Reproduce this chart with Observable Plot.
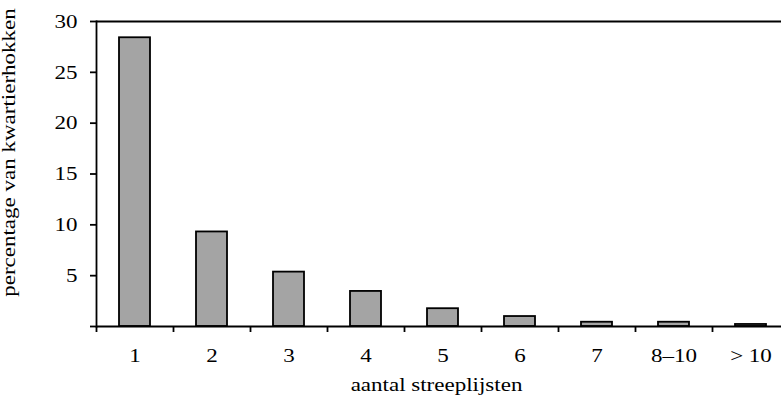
<!DOCTYPE html>
<html>
<head>
<meta charset="utf-8">
<script src="https://cdn.jsdelivr.net/npm/d3@7"></script>
<script src="https://cdn.jsdelivr.net/npm/@observablehq/plot@0.6"></script>
<style>
  html, body { margin: 0; padding: 0; background: #fff; overflow: hidden; }
  #chart svg { display: block; overflow: hidden; }
</style>
</head>
<body>
<div id="chart"></div>
<script>
const categories = ["1", "2", "3", "4", "5", "6", "7", "8\u201310", "> 10"];
const percentages = [28.4, 9.3, 5.35, 3.45, 1.75, 0.98, 0.42, 0.42, 0.2];
const yTicks = [0, 5, 10, 15, 20, 25, 30];
const xTitle = "aantal streeplijsten";
const yTitle = "percentage van kwartierhokken";

const data = categories.map((c, i) => ({category: c, value: percentages[i]}));

const W = 781, H = 398;
const mL = 96, mR = -8, mT = 21, mB = 72;
const step = (W - mL - mR) / categories.length;
const ink = 1.8;
const fs = 19.5;

const chart = Plot.plot({
  width: W,
  height: H,
  marginLeft: mL,
  marginRight: mR,
  marginTop: mT,
  marginBottom: mB,
  style: {fontFamily: "'Liberation Serif', 'Times New Roman', serif", fontSize: fs + "px", color: "#000", background: "#fff", overflow: "hidden"},
  x: {type: "band", domain: categories, paddingInner: 0.6, paddingOuter: 0.3, align: 0.5},
  y: {domain: [0, d3.max(yTicks)]},
  marks: [
    Plot.barY(data, {x: "category", y: "value", fill: "#a4a4a4", stroke: "#000", strokeWidth: ink}),
    Plot.ruleY([d3.max(yTicks)], {stroke: "#000", strokeWidth: ink}),
    Plot.ruleY([0], {stroke: "#000", strokeWidth: ink}),
    Plot.frame({anchor: "left", stroke: "#000", strokeWidth: ink}),
    Plot.axisY({ticks: yTicks, tickSize: 6, tickPadding: 13, strokeWidth: ink, tickFormat: d => d === 0 ? "" : String(d), label: null, fontSize: fs}),
    Plot.axisX({ticks: categories, tickSize: 6, strokeWidth: ink, tickFormat: () => "", label: null, dx: -step / 2}),
    Plot.axisX({ticks: categories, tickSize: 0, tickPadding: 22, label: null, fontSize: fs}),
    Plot.text([xTitle], {text: d => d, frameAnchor: "bottom", textAnchor: "middle", dx: -6.5, dy: 58, fontSize: fs, lineAnchor: "middle"}),
    Plot.text([yTitle], {text: d => d, frameAnchor: "left", textAnchor: "middle", fontSize: fs, lineAnchor: "middle"})
  ]
});

// Reference type is widened along its reading direction.
const stretch = 1.18;
chart.querySelectorAll("text").forEach(t => {
  if (t.textContent === yTitle) {
    const X = 14, Y = 152;
    t.removeAttribute("x"); t.removeAttribute("y");
    t.setAttribute("transform", `translate(${X},${Y}) rotate(-90) scale(${stretch},1)`);
    return;
  }
  const tr = t.getAttribute("transform");
  if (tr) {
    t.setAttribute("transform", tr + ` scale(${stretch},1)`);
  } else {
    const x = +t.getAttribute("x") || 0, y = +t.getAttribute("y") || 0;
    t.removeAttribute("x"); t.removeAttribute("y");
    t.setAttribute("transform", `translate(${x},${y}) scale(${stretch},1)`);
  }
});

document.getElementById("chart").appendChild(chart);
</script>
</body>
</html>
